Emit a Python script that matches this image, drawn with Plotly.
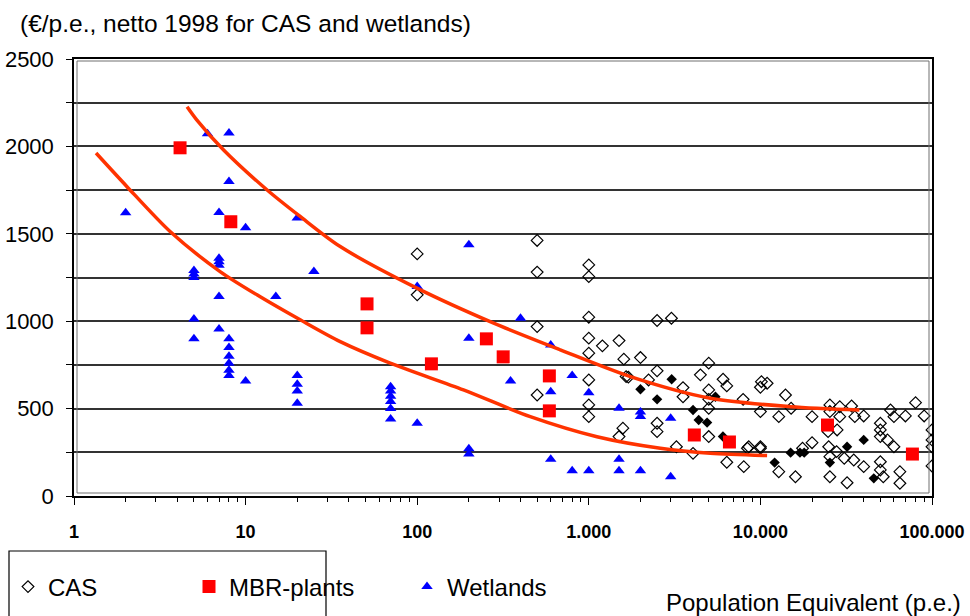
import plotly.graph_objects as go

# ---------------- data ----------------
cas_x = [100, 100, 500, 500, 500, 500,
         1000, 1000, 1000, 1000, 1000, 1000, 1000, 1000,
         1200, 1500, 1600, 1650, 1580, 1500,
         2500, 3030, 2000, 1700, 2500, 5000, 4470, 6060, 6370, 2230, 3540, 3540,
         5000, 5000, 7930, 10140, 10940, 10000, 5000, 2500, 2500, 5000, 3240, 4050,
         8550, 10000, 6370, 8000, 12800, 10000, 12800,
         14000, 15100, 20000, 25400, 25400, 29000, 29000, 34000, 35500, 40000,
         57300, 60000, 70000, 80200, 90000, 50000, 50000, 50000, 55000, 60000,
         100000, 100000, 100000, 100000, 28000, 24800, 20000, 17600, 25000, 25400,
         27800, 30800, 35000, 40000, 50000, 50000, 65000, 65000, 52000, 25400,
         32000, 16000, 8400, 10000]
cas_y = [1385, 1151, 1462, 1281, 969, 578,
         1322, 1255, 1023, 903, 817, 664, 521, 454,
         859, 889, 783, 683, 388, 340,
         1004, 1017, 792, 680, 716, 760, 693, 668, 630, 664, 620, 568,
         607, 553, 553, 654, 645, 622, 502, 416, 368, 340, 282, 244,
         282, 282, 193, 168, 139, 483, 454,
         578, 502, 454, 521, 483, 511, 454, 515, 454, 458,
         492, 454, 458, 534, 458, 416, 378, 340, 321, 282,
         378, 321, 282, 172, 378, 368, 305, 273, 282, 225,
         254, 216, 206, 168, 196, 149, 139, 73, 110, 110,
         76, 110, 273, 273]

cas_fill_x = [3040, 2000, 2500, 5470, 4050, 4370, 4890, 6050, 12100,
              15000, 17000, 18000, 25400, 32000, 40000, 45800]
cas_fill_y = [668, 611, 553, 568, 492, 435, 420, 340, 191,
              248, 248, 248, 191, 282, 321, 101]

mbr_x = [4.15, 8.2, 51, 51, 121, 253, 317, 589, 589, 4120, 6600, 24600, 76900]
mbr_y = [1992, 1569, 1099, 962, 756, 899, 796, 687, 487, 349, 309, 406, 240]

wet_x = [2, 5, 5, 5, 5, 5, 6, 7, 7, 7, 7, 7, 7,
         8, 8, 8, 8, 8, 8, 8, 8, 10, 10, 15, 20, 20, 20, 20, 20, 25,
         70, 70, 70, 70, 70, 70, 100, 100, 200, 200, 200, 200, 350, 400,
         600, 600, 600, 800, 800, 1000, 1000, 1500, 1500, 1500,
         2000, 2000, 2000, 3000, 3000]
wet_y = [1620, 1290, 1270, 1250, 1013, 899, 2072, 1622, 1360, 1340, 1320, 1141, 956,
         2076, 1799, 900, 850, 800, 760, 720, 690, 1534, 658, 1141, 1591, 690, 640, 600, 530, 1284,
         625, 600, 570, 540, 500, 440, 1198, 416, 1437, 903, 270, 240, 658, 1017,
         864, 597, 210, 689, 145, 590, 145, 502, 210, 145,
         480, 455, 145, 445, 110]

upper_x = [4.56, 5.19, 7.42, 13.3, 20.8, 35.6, 99.6, 277, 682, 1746, 5107, 14960, 37760]
upper_y = [2227, 2152, 1981, 1752, 1599, 1427, 1189, 990, 836, 683, 559, 511, 492]

lower_x = [1.344, 2.03, 3.63, 7.10, 12.1, 20.8, 35.6, 69.6, 186, 456, 1116, 2612, 5107, 10940]
lower_y = [1962, 1771, 1513, 1284, 1141, 1008, 883, 760, 607, 454, 339, 273, 244, 231]

x_tickvals = [1, 10, 100, 1000, 10000, 100000]
x_ticktext = ["1", "10", "100", "1.000", "10.000", "100.000"]
y_tickvals = [0, 500, 1000, 1500, 2000, 2500]

title_text = "(€/p.e., netto 1998 for CAS and wetlands)"
xtitle_text = "Population Equivalent (p.e.)"

# ---------------- layout helpers ----------------
W, H = 970, 616
L, R, T, B = 74, 932, 59, 496


def px(x):
    return (x - L) / (R - L)


def py(y):
    return (B - y) / (B - T)


def cx(x):
    return x / W


def cy(y):
    return 1 - y / H


FONT = "Liberation Sans, Arial, sans-serif"
RED_LINE = "#FF3300"

fig = go.Figure()

fig.add_trace(go.Scatter(
    x=cas_x, y=cas_y, mode="markers", name="CAS", legend="legend",
    marker=dict(symbol="diamond-open", size=9, color="black", line=dict(width=1.2, color="black")),
))
fig.add_trace(go.Scatter(
    x=cas_fill_x, y=cas_fill_y, mode="markers", name="CAS (filled)", showlegend=False,
    marker=dict(symbol="diamond", size=8, color="black"),
))
fig.add_trace(go.Scatter(
    x=wet_x, y=wet_y, mode="markers", name="Wetlands", legend="legend3",
    marker=dict(symbol="triangle-up", size=10, color="#0000FF"),
))
fig.add_trace(go.Scatter(
    x=mbr_x, y=mbr_y, mode="markers", name="MBR-plants", legend="legend2",
    marker=dict(symbol="square", size=13, color="#FF0000"),
))
fig.add_trace(go.Scatter(
    x=upper_x, y=upper_y, mode="lines", showlegend=False,
    line=dict(color=RED_LINE, width=3.5, shape="spline", smoothing=0.8),
))
fig.add_trace(go.Scatter(
    x=lower_x, y=lower_y, mode="lines", showlegend=False,
    line=dict(color=RED_LINE, width=3.5, shape="spline", smoothing=0.8),
))

grid_col = "#333333"

fig.update_xaxes(
    type="log", range=[0, 5], automargin=False,
    tickvals=x_tickvals, ticktext=x_ticktext,
    tickfont=dict(family=FONT, size=18, color="black", weight="bold"),
    showgrid=False, zeroline=False,
    showline=True, linecolor="black", linewidth=1.5, mirror=True,
    ticks="outside", ticklen=7, tickcolor="black", tickwidth=1.2,
    ticklabelstandoff=12,
    minor=dict(ticks="outside", ticklen=4, tickcolor="black", tickwidth=1, dtick="D1", showgrid=False),
)
fig.update_yaxes(
    range=[0, 2500], tickvals=y_tickvals, automargin=False,
    tickfont=dict(family=FONT, size=22, color="black"),
    showgrid=True, gridcolor=grid_col, gridwidth=1.7, zeroline=False,
    showline=True, linecolor="black", linewidth=1.5, mirror=True,
    ticks="outside", ticklen=6, tickcolor="black", tickwidth=1.2,
    ticklabelstandoff=8,
    minor=dict(dtick=250, showgrid=True, gridcolor=grid_col, gridwidth=1.7,
               ticks="outside", ticklen=6, tickcolor="black", tickwidth=1.2),
)

leg_common = dict(orientation="h", xanchor="left", yanchor="middle",
                  xref="container", yref="container",
                  font=dict(family=FONT, size=24, color="black"),
                  bgcolor="rgba(0,0,0,0)", borderwidth=0, itemsizing="trace")

fig.update_layout(
    width=W, height=H,
    margin=dict(l=L, r=W - R, t=T, b=H - B, autoexpand=False),
    paper_bgcolor="white", plot_bgcolor="white",
    font=dict(family=FONT, color="black"),
    legend=dict(x=cx(8), y=cy(587), **leg_common),
    legend2=dict(x=cx(189), y=cy(587), **leg_common),
    legend3=dict(x=cx(407), y=cy(587), **leg_common),
    shapes=[
        # inner plot-area border (Excel double frame look)
        dict(type="rect", xref="paper", yref="paper",
             x0=px(L + 3), x1=px(R - 3), y0=py(B - 3), y1=py(T + 2),
             line=dict(color="#707070", width=1), layer="above"),
        # legend box
        dict(type="rect", xref="paper", yref="paper",
             x0=px(9), x1=px(326), y0=py(640), y1=py(551),
             line=dict(color="black", width=1.2)),
    ],
    annotations=[
        dict(text=title_text, xref="paper", yref="paper", x=px(18), y=py(24),
             xanchor="left", yanchor="middle", showarrow=False,
             font=dict(family=FONT, size=24.5, color="black")),
        dict(text=xtitle_text, xref="paper", yref="paper", x=px(963), y=py(602),
             xanchor="right", yanchor="middle", showarrow=False,
             font=dict(family=FONT, size=24, color="black")),
    ],
)

fig.write_html("out.html")
